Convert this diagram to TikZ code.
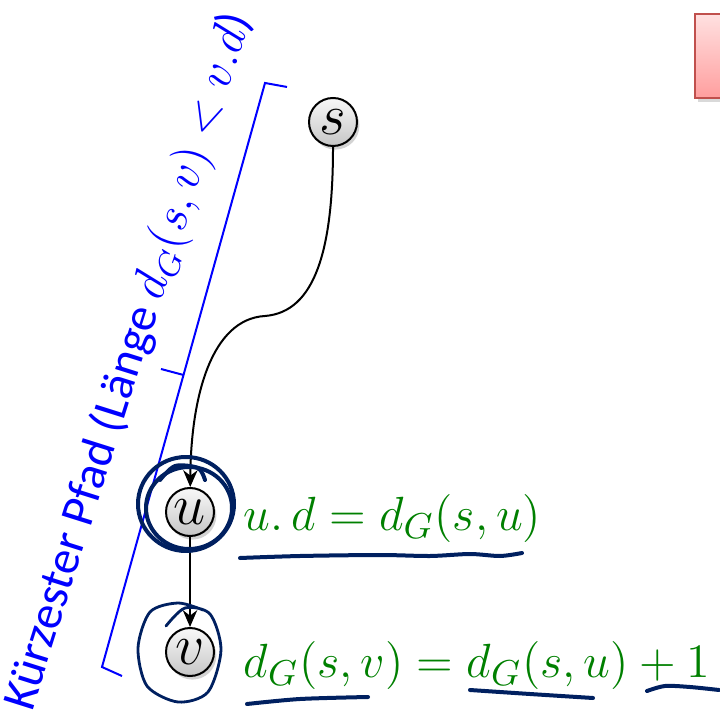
\documentclass[tikz,border=0pt]{standalone}
\usepackage{amsmath,amssymb}
\usepackage{fontspec}
\setsansfont{Carlito}
\usepackage{tikz}
\usetikzlibrary{shapes,arrows,arrows.meta,positioning,shadows}
\definecolor{ink}{RGB}{0,32,96}
\definecolor{mathgreen}{RGB}{0,128,0}
\definecolor{boxred}{RGB}{192,80,77}

\begin{document}
\begin{tikzpicture}[x=0.25pt, y=-0.25pt]
    \tikzstyle{vertex} = [circle, draw, line width=0.5pt, top color=gray!5, bottom color=gray!45, minimum size=12pt, inner sep=0pt, font=\fontsize{14}{16}\selectfont, drop shadow={opacity=0.35, shadow xshift=0.6pt, shadow yshift=-0.9pt}]
    \tikzstyle{formula} = [mathgreen, inner sep=0pt, font=\fontsize{12.2}{14}\selectfont]
    \tikzstyle{arrow} = [line width=0.5pt, ->, >={Stealth[length=4.2pt, width=3.6pt]}]
    \tikzstyle{pathlabel} = [blue, inner sep=0pt, font=\sffamily\fontsize{12}{14}\selectfont]
    \tikzstyle{scribble} = [ink, line width=1pt, line cap=round, line join=round]
    \useasboundingbox (0,0) rectangle (719,723);

    % red box, cut at the right edge
    \node [rectangle, draw=boxred, line width=0.6pt, top color=red!12, bottom color=red!38, minimum width=14pt, minimum height=21pt, inner sep=0pt, drop shadow={opacity=0.3, shadow xshift=0.6pt, shadow yshift=-0.9pt}, anchor=north west] (alert) at (694,13) {};

    \node [vertex] (s) at (333,122) {$s$};
    \node [vertex] (u) at (190,512) {$u$};
    \node [vertex] (v) at (190,652) {$v$};

    \draw [arrow] (s) .. controls (333,250) and (315,312) .. (265,316)
                      .. controls (212,319) and (191,395) .. (u);
    \draw [arrow] (u) -- (v);

    \node [formula, anchor=base west] (du) at (243,530) {$u.\,d = d_G(s,u)$};
    \node [formula, anchor=base west] (dv) at (243,677) {$d_G(s,v) = d_G(s,u) + 1$};

    % bracket along the path
    \draw [blue, line width=0.5pt] (287,87) -- (265,83) -- (102,667) -- (122,676);
    \draw [blue, line width=0.5pt] (183.5,375) -- (161,369);
    \node [pathlabel, rotate=72.5] (len) at (130,362) {Kürzester Pfad (Länge $d_G(s,v) < v.d$)};

    % handwritten marks
    \draw [scribble] (186,504) ellipse [x radius=48, y radius=47];
    \draw [scribble] (189,508) ellipse [x radius=43, y radius=41];
    \draw [scribble] plot [smooth] coordinates {(160,480) (175,466) (198,468) (205,480)};
    \draw [scribble, line width=0.7pt] plot [smooth] coordinates {(166,626) (185,608) (210,614) (221,650) (208,692) (178,702) (147,686) (138,648) (150,612) (178,603) (203,610)};
    \draw [scribble] plot [smooth] coordinates {(240,558) (300,556) (380,555) (430,556) (470,554) (500,556) (522,553)};
    \draw [scribble] plot [smooth] coordinates {(247,704) (300,699) (368,697)};
    \draw [scribble] plot [smooth] coordinates {(470,690) (530,694) (593,698)};
    \draw [scribble] plot [smooth] coordinates {(647,691) (665,686) (690,687) (719,690)};
\end{tikzpicture}
\end{document}
